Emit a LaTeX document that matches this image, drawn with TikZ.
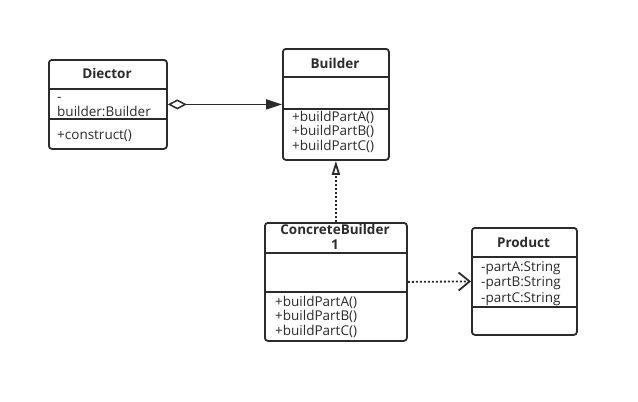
\documentclass[tikz,border=0pt]{standalone}
\usepackage{fontspec}
\setmainfont{Open Sans}
\usetikzlibrary{arrows.meta}
\definecolor{ln}{HTML}{2B2B2B}
\tikzset{
  cls/.style={draw=ln, line width=1.8pt, rounded corners=3pt, fill=white, inner sep=0pt, anchor=north west},
  div/.style={draw=ln, line width=1.8pt},
  ttl/.style={font=\fontsize{13.5}{15}\selectfont\bfseries, text=ln, anchor=base, inner sep=0pt},
  mem/.style={font=\fontsize{13.5}{15}\selectfont, text=ln, anchor=base west, inner sep=0pt},
  conn/.style={draw=ln, line width=1.8pt},
  dots/.style={dash pattern=on 2pt off 2pt}
}
\begin{document}
\begin{tikzpicture}[x=1pt,y=-1pt]
\useasboundingbox (0,0) rectangle (638,402);
\fill[white] (0,0) rectangle (638,402);
% Diector
\node[cls, minimum width=118pt, minimum height=89pt] (dir) at (48,59) {};
\draw[div] (48,89) -- (166,89);
\draw[div] (48,119) -- (166,119);
\node[ttl] (dirt) at (107,78.5) {Diector};
\node[mem] (dira) at (57,101) {-};
\node[mem] (dirb) at (57,116) {builder:Builder};
\node[mem] (dirm) at (57,139) {+construct()};
% Builder
\node[cls, minimum width=106pt, minimum height=111pt] (bld) at (282,48) {};
\draw[div] (282,77) -- (388,77);
\draw[div] (282,109) -- (388,109);
\node[ttl] (bldt) at (335,68) {Builder};
\node[mem] (bld1) at (292,121) {+buildPartA()};
\node[mem] (bld2) at (292,135.5) {+buildPartB()};
\node[mem] (bld3) at (292,150) {+buildPartC()};
% ConcreteBuilder
\node[cls, minimum width=142pt, minimum height=118pt] (cb) at (264,222) {};
\draw[div] (264,253) -- (406,253);
\draw[div] (264,292) -- (406,292);
\node[ttl] (cbt) at (335,234.5) {ConcreteBuilder};
\node[ttl] (cbt2) at (335,249) {1};
\node[mem] (cb1) at (275,306) {+buildPartA()};
\node[mem] (cb2) at (275,320.5) {+buildPartB()};
\node[mem] (cb3) at (275,335) {+buildPartC()};
% Product
\node[cls, minimum width=105pt, minimum height=107pt] (prod) at (471,227) {};
\draw[div] (471,257) -- (576,257);
\draw[div] (471,307) -- (576,307);
\node[ttl] (prodt) at (523.5,247) {Product};
\node[mem] (p1) at (481,271) {-partA:String};
\node[mem] (p2) at (481,286.5) {-partB:String};
\node[mem] (p3) at (481,302) {-partC:String};
% connectors
\draw[conn, {Diamond[open, length=19pt, width=10pt, line width=1.5pt]}-{Triangle[length=16pt, width=10pt]}] (dir.east) -- (bld.west);
\draw[conn, dots, -{Triangle[open, length=14pt, width=8pt, line width=1.8pt, sep=0pt]}] (cb.north) -- (bld.south);
\draw[conn, dots, -{Straight Barb[length=11pt, width=18pt, line width=1.8pt]}] (cb.east) -- (prod.west);
\end{tikzpicture}
\end{document}
